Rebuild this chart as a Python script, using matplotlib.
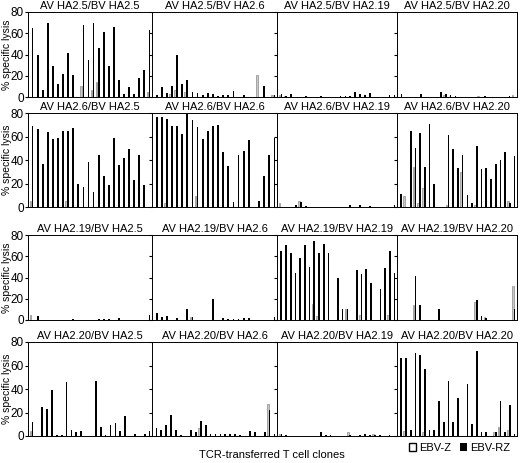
import matplotlib
matplotlib.use("Agg")
import matplotlib.pyplot as plt
import numpy as np

row_labels = ["HA2.5", "HA2.6", "HA2.19", "HA2.20"]
col_labels = ["HA2.5", "HA2.6", "HA2.19", "HA2.20"]

rz = [
 [[65,40,7,70,29,12,22,41,21,0,68,35,70,46,61,29,66,16,3,9,3,18,25,63],
  [2,9,4,10,40,12,16,5,4,2,4,3,1,2,2,6,0,2,0,0,0,10,0,2],
  [3,1,3,0,0,1,0,0,1,0,0,0,1,1,1,5,3,2,4,0,0,0,2,2],
  [3,0,0,0,3,0,0,0,5,3,2,1,0,0,0,0,0,1,0,0,0,0,1,0]],
 [[69,66,37,64,58,59,65,65,67,20,17,38,13,44,26,19,59,36,42,49,23,44,19,0],
  [77,77,75,69,69,62,79,74,68,58,65,69,70,47,35,4,44,48,57,0,5,26,44,59],
  [0,0,0,2,4,1,0,0,0,0,0,0,0,0,2,0,2,0,1,0,0,0,0,2],
  [11,0,65,50,63,34,71,20,0,0,61,49,33,44,10,3,52,32,33,24,37,40,47,3,43]],
 [[0,4,0,0,0,0,0,0,1,0,0,0,0,1,1,1,0,2,0,0,0,0,0,5],
  [7,3,4,0,2,0,10,3,0,0,0,20,0,2,1,1,1,2,2,0,0,0,0,3],
  [65,71,63,44,58,71,50,74,63,72,63,0,40,10,10,0,47,43,48,35,0,29,49,65,44],
  [0,0,0,41,14,0,0,0,10,0,0,0,0,0,0,0,19,4,2,0,0,0,0,0,10]],
 [[12,0,25,23,39,1,1,46,5,3,4,0,0,47,8,1,9,11,4,17,0,2,0,2,4],
  [7,5,9,18,5,1,0,5,3,13,9,2,2,2,2,2,2,1,0,4,3,0,3,22,2],
  [2,1,0,0,0,0,0,0,3,1,1,0,0,0,1,0,1,2,1,1,1,0,1,0],
  [66,66,5,71,69,57,5,5,30,12,47,12,32,0,44,10,72,3,3,0,3,30,3,26,2]],
]
z = [
 [[0,0,0,0,0,0,0,0,0,0,10,0,7,14,0,0,0,0,0,0,0,0,0,5],
  [0,0,0,3,7,0,5,0,0,0,0,0,0,0,0,0,0,0,0,0,21,0,0,2],
  [2,1,0,0,0,0,0,0,0,0,0,0,0,0,0,0,0,0,0,0,0,0,0,0],
  [0,0,0,0,0,0,0,0,0,2,0,0,0,0,0,0,1,0,0,0,0,0,0,2]],
 [[5,0,0,0,0,0,0,5,0,0,0,0,0,0,0,0,0,0,0,0,0,0,0,0],
  [0,0,3,0,0,0,0,0,9,0,0,0,0,0,0,0,0,0,0,0,0,0,0,0],
  [3,0,0,0,5,0,0,0,0,0,0,0,0,0,0,0,0,0,0,0,0,0,0,0],
  [0,9,0,34,3,16,0,0,0,0,2,0,0,30,0,0,2,0,0,0,0,0,0,5,0]],
 [[5,0,0,0,0,0,0,0,0,0,0,0,0,0,0,0,0,0,0,0,0,0,0,0],
  [0,0,0,0,0,0,0,3,0,0,0,0,0,0,0,0,0,0,0,0,0,0,0,0],
  [0,0,0,0,0,0,0,15,4,0,0,0,0,0,10,0,0,5,0,0,0,0,0,5,0],
  [0,0,0,14,0,0,0,0,0,0,0,0,0,0,0,0,17,0,3,0,0,0,0,0,32]],
 [[4,0,0,0,0,0,0,0,0,0,0,0,0,0,0,0,0,0,0,0,0,0,0,0,0],
  [0,0,0,0,0,0,0,0,0,7,0,0,0,0,0,0,0,0,0,0,0,0,0,27,0],
  [2,0,0,0,0,0,0,0,0,0,0,0,0,0,3,0,0,0,0,2,0,0,0,0],
  [0,4,0,0,0,3,0,0,0,0,0,0,0,0,0,0,0,0,0,0,3,8,0,5,0]],
]

W, H = 520, 463
plt.rcParams['font.family'] = ['Liberation Sans', 'DejaVu Sans']
fig = plt.figure(figsize=(W/100, H/100), dpi=100)
rows_px = [(12, 97), (113, 207), (235, 320), (342, 436)]
cols_px = [(28, 152), (152, 277), (277, 397), (397, 517)]
for r in range(4):
    for c in range(4):
        t, b = rows_px[r]; l, rr = cols_px[c]
        ax = fig.add_axes([l/W, 1-b/H, (rr-l)/W, (b-t)/H])
        v1 = np.array(rz[r][c]); v0 = np.array(z[r][c])
        x = np.arange(len(v1))
        ax.bar(x-0.2, v0, width=0.35, color='#c8c8c8', edgecolor='#777777', linewidth=0.4)
        ax.bar(x+0.2, v1, width=0.35, color='black')
        ax.set_xlim(-0.7, len(v1)-0.3)
        ax.set_ylim(0, 80)
        ax.set_yticks([0, 20, 40, 60, 80])
        ax.set_xticks([])
        ax.tick_params(axis='y', length=2, labelsize=8.5, pad=1)
        for s in ax.spines.values():
            s.set_linewidth(0.7)
        if c > 0:
            ax.set_yticklabels([])
        ax.set_title(f"AV {row_labels[r]}/BV {col_labels[c]}", fontsize=8, pad=2)
    t, b = rows_px[r]
    fig.text(7/W, 1-(t+b)/2/H, "% specific lysis", rotation=90, ha='center', va='center', fontsize=7.5)
fig.text(272/W, 1-455/H, "TCR-transferred T cell clones", ha='center', va='center', fontsize=8)
from matplotlib.patches import Patch
fig.legend(handles=[Patch(facecolor='white', edgecolor='black', label='EBV-Z'),
                    Patch(facecolor='black', label='EBV-RZ')],
           loc='center right', bbox_to_anchor=(1.0, 1-448/H), ncol=2, frameon=False,
           fontsize=8, handlelength=0.6, handleheight=0.8, columnspacing=0.8, handletextpad=0.3)
fig.savefig("out.png", dpi=100)
